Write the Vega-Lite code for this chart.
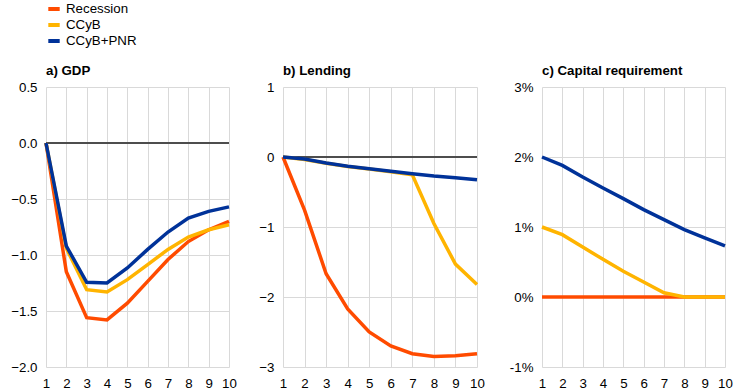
{
  "$schema": "https://vega.github.io/schema/vega-lite/v6.json",
  "background": "white",
  "padding": {"left": 10, "top": 1, "right": 5, "bottom": 0},
  "datasets": {
    "d": [
      {"panel": "GDP", "period": 1, "series": "Recession", "value": 0},
      {"panel": "GDP", "period": 2, "series": "Recession", "value": -1.15},
      {"panel": "GDP", "period": 3, "series": "Recession", "value": -1.56},
      {"panel": "GDP", "period": 4, "series": "Recession", "value": -1.58},
      {"panel": "GDP", "period": 5, "series": "Recession", "value": -1.43},
      {"panel": "GDP", "period": 6, "series": "Recession", "value": -1.235},
      {"panel": "GDP", "period": 7, "series": "Recession", "value": -1.04},
      {"panel": "GDP", "period": 8, "series": "Recession", "value": -0.88},
      {"panel": "GDP", "period": 9, "series": "Recession", "value": -0.775},
      {"panel": "GDP", "period": 10, "series": "Recession", "value": -0.70},
      {"panel": "GDP", "period": 1, "series": "CCyB", "value": 0},
      {"panel": "GDP", "period": 2, "series": "CCyB", "value": -0.94},
      {"panel": "GDP", "period": 3, "series": "CCyB", "value": -1.31},
      {"panel": "GDP", "period": 4, "series": "CCyB", "value": -1.33},
      {"panel": "GDP", "period": 5, "series": "CCyB", "value": -1.22},
      {"panel": "GDP", "period": 6, "series": "CCyB", "value": -1.086},
      {"panel": "GDP", "period": 7, "series": "CCyB", "value": -0.95},
      {"panel": "GDP", "period": 8, "series": "CCyB", "value": -0.84},
      {"panel": "GDP", "period": 9, "series": "CCyB", "value": -0.775},
      {"panel": "GDP", "period": 10, "series": "CCyB", "value": -0.73},
      {"panel": "GDP", "period": 1, "series": "CCyB+PNR", "value": 0},
      {"panel": "GDP", "period": 2, "series": "CCyB+PNR", "value": -0.92},
      {"panel": "GDP", "period": 3, "series": "CCyB+PNR", "value": -1.244},
      {"panel": "GDP", "period": 4, "series": "CCyB+PNR", "value": -1.25},
      {"panel": "GDP", "period": 5, "series": "CCyB+PNR", "value": -1.116},
      {"panel": "GDP", "period": 6, "series": "CCyB+PNR", "value": -0.95},
      {"panel": "GDP", "period": 7, "series": "CCyB+PNR", "value": -0.795},
      {"panel": "GDP", "period": 8, "series": "CCyB+PNR", "value": -0.67},
      {"panel": "GDP", "period": 9, "series": "CCyB+PNR", "value": -0.61},
      {"panel": "GDP", "period": 10, "series": "CCyB+PNR", "value": -0.57},
      {"panel": "Lending", "period": 1, "series": "Recession", "value": 0},
      {"panel": "Lending", "period": 2, "series": "Recession", "value": -0.76},
      {"panel": "Lending", "period": 3, "series": "Recession", "value": -1.667},
      {"panel": "Lending", "period": 4, "series": "Recession", "value": -2.17},
      {"panel": "Lending", "period": 5, "series": "Recession", "value": -2.5},
      {"panel": "Lending", "period": 6, "series": "Recession", "value": -2.70},
      {"panel": "Lending", "period": 7, "series": "Recession", "value": -2.81},
      {"panel": "Lending", "period": 8, "series": "Recession", "value": -2.85},
      {"panel": "Lending", "period": 9, "series": "Recession", "value": -2.84},
      {"panel": "Lending", "period": 10, "series": "Recession", "value": -2.81},
      {"panel": "Lending", "period": 1, "series": "CCyB", "value": 0},
      {"panel": "Lending", "period": 2, "series": "CCyB", "value": -0.035},
      {"panel": "Lending", "period": 3, "series": "CCyB", "value": -0.09},
      {"panel": "Lending", "period": 4, "series": "CCyB", "value": -0.137},
      {"panel": "Lending", "period": 5, "series": "CCyB", "value": -0.172},
      {"panel": "Lending", "period": 6, "series": "CCyB", "value": -0.212},
      {"panel": "Lending", "period": 7, "series": "CCyB", "value": -0.255},
      {"panel": "Lending", "period": 8, "series": "CCyB", "value": -0.95},
      {"panel": "Lending", "period": 9, "series": "CCyB", "value": -1.53},
      {"panel": "Lending", "period": 10, "series": "CCyB", "value": -1.82},
      {"panel": "Lending", "period": 1, "series": "CCyB+PNR", "value": 0},
      {"panel": "Lending", "period": 2, "series": "CCyB+PNR", "value": -0.03},
      {"panel": "Lending", "period": 3, "series": "CCyB+PNR", "value": -0.086},
      {"panel": "Lending", "period": 4, "series": "CCyB+PNR", "value": -0.133},
      {"panel": "Lending", "period": 5, "series": "CCyB+PNR", "value": -0.167},
      {"panel": "Lending", "period": 6, "series": "CCyB+PNR", "value": -0.205},
      {"panel": "Lending", "period": 7, "series": "CCyB+PNR", "value": -0.238},
      {"panel": "Lending", "period": 8, "series": "CCyB+PNR", "value": -0.27},
      {"panel": "Lending", "period": 9, "series": "CCyB+PNR", "value": -0.295},
      {"panel": "Lending", "period": 10, "series": "CCyB+PNR", "value": -0.324},
      {"panel": "Capital", "period": 1, "series": "Recession", "value": 0},
      {"panel": "Capital", "period": 2, "series": "Recession", "value": 0},
      {"panel": "Capital", "period": 3, "series": "Recession", "value": 0},
      {"panel": "Capital", "period": 4, "series": "Recession", "value": 0},
      {"panel": "Capital", "period": 5, "series": "Recession", "value": 0},
      {"panel": "Capital", "period": 6, "series": "Recession", "value": 0},
      {"panel": "Capital", "period": 7, "series": "Recession", "value": 0},
      {"panel": "Capital", "period": 8, "series": "Recession", "value": 0},
      {"panel": "Capital", "period": 9, "series": "Recession", "value": 0},
      {"panel": "Capital", "period": 10, "series": "Recession", "value": 0},
      {"panel": "Capital", "period": 1, "series": "CCyB", "value": 1.0},
      {"panel": "Capital", "period": 2, "series": "CCyB", "value": 0.89},
      {"panel": "Capital", "period": 3, "series": "CCyB", "value": 0.714},
      {"panel": "Capital", "period": 4, "series": "CCyB", "value": 0.538},
      {"panel": "Capital", "period": 5, "series": "CCyB", "value": 0.367},
      {"panel": "Capital", "period": 6, "series": "CCyB", "value": 0.214},
      {"panel": "Capital", "period": 7, "series": "CCyB", "value": 0.06},
      {"panel": "Capital", "period": 8, "series": "CCyB", "value": 0},
      {"panel": "Capital", "period": 9, "series": "CCyB", "value": 0},
      {"panel": "Capital", "period": 10, "series": "CCyB", "value": 0},
      {"panel": "Capital", "period": 1, "series": "CCyB+PNR", "value": 2.0},
      {"panel": "Capital", "period": 2, "series": "CCyB+PNR", "value": 1.88},
      {"panel": "Capital", "period": 3, "series": "CCyB+PNR", "value": 1.714},
      {"panel": "Capital", "period": 4, "series": "CCyB+PNR", "value": 1.557},
      {"panel": "Capital", "period": 5, "series": "CCyB+PNR", "value": 1.405},
      {"panel": "Capital", "period": 6, "series": "CCyB+PNR", "value": 1.248},
      {"panel": "Capital", "period": 7, "series": "CCyB+PNR", "value": 1.105},
      {"panel": "Capital", "period": 8, "series": "CCyB+PNR", "value": 0.962},
      {"panel": "Capital", "period": 9, "series": "CCyB+PNR", "value": 0.843},
      {"panel": "Capital", "period": 10, "series": "CCyB+PNR", "value": 0.729}
    ]
  },
  "config": {
    "font": "Liberation Sans",
    "view": {"stroke": null},
    "axis": {
      "grid": true, "gridColor": "#d9d9d9", "gridWidth": 1,
      "domain": false, "ticks": false,
      "labelFont": "Liberation Sans", "labelFontSize": 13.3, "labelColor": "#000",
      "title": null
    },
    "axisX": {"labelPadding": 9, "labelFlush": false},
    "axisY": {"labelPadding": 9},
    "title": {"font": "Liberation Sans", "fontSize": 13.3, "fontWeight": "bold", "anchor": "start", "frame": "group", "offset": 3, "color": "#000"},
    "legend": {
      "orient": "none", "legendX": 0, "legendY": -86,
      "symbolType": "stroke", "symbolStrokeWidth": 4, "symbolSize": 130,
      "labelFont": "Liberation Sans", "labelFontSize": 13.3, "labelColor": "#000",
      "labelOffset": 4, "rowPadding": 0, "title": null
    }
  },
  "bounds": "flush",
  "spacing": 54,
  "hconcat": [
    {
      "width": 183, "height": 280,
      "title": "a) GDP",
      "data": {"name": "d"},
      "transform": [{"filter": "datum.panel === 'GDP'"}],
      "layer": [
        {"mark": {"type": "rule", "color": "#4d4d4d", "strokeWidth": 2}, "encoding": {"y": {"datum": 0, "type": "quantitative"}}},
        {
          "mark": {"type": "line", "strokeWidth": 3.5},
          "encoding": {
            "x": {"field": "period", "type": "quantitative", "scale": {"domain": [1, 10], "nice": false}, "axis": {"values": [1,2,3,4,5,6,7,8,9,10]}},
            "y": {"field": "value", "type": "quantitative", "scale": {"domain": [-2, 0.5], "nice": false}, "axis": {"values": [-2,-1.5,-1,-0.5,0,0.5], "format": ".1f"}},
            "color": {"field": "series", "type": "nominal", "scale": {"domain": ["Recession", "CCyB", "CCyB+PNR"], "range": ["#FF4B00", "#FFB400", "#003299"]}, "sort": ["Recession", "CCyB", "CCyB+PNR"]}
          }
        }
      ]
    },
    {
      "bounds": "flush",
      "spacing": 65,
      "hconcat": [
        {
          "width": 194, "height": 280,
          "title": "b) Lending",
          "data": {"name": "d"},
          "transform": [{"filter": "datum.panel === 'Lending'"}],
          "layer": [
            {"mark": {"type": "rule", "color": "#4d4d4d", "strokeWidth": 2}, "encoding": {"y": {"datum": 0, "type": "quantitative"}}},
            {
              "mark": {"type": "line", "strokeWidth": 3.5},
              "encoding": {
                "x": {"field": "period", "type": "quantitative", "scale": {"domain": [1, 10], "nice": false}, "axis": {"values": [1,2,3,4,5,6,7,8,9,10]}},
                "y": {"field": "value", "type": "quantitative", "scale": {"domain": [-3, 1], "nice": false}, "axis": {"values": [-3,-2,-1,0,1], "format": "d"}},
                "color": {"field": "series", "type": "nominal", "scale": {"domain": ["Recession", "CCyB", "CCyB+PNR"], "range": ["#FF4B00", "#FFB400", "#003299"]}, "sort": ["Recession", "CCyB", "CCyB+PNR"]}
              }
            }
          ]
        },
        {
          "width": 183, "height": 280,
          "title": "c) Capital requirement",
          "data": {"name": "d"},
          "transform": [{"filter": "datum.panel === 'Capital'"}],
          "layer": [
            {
              "mark": {"type": "line", "strokeWidth": 3.5},
              "encoding": {
                "x": {"field": "period", "type": "quantitative", "scale": {"domain": [1, 10], "nice": false}, "axis": {"values": [1,2,3,4,5,6,7,8,9,10]}},
                "y": {"field": "value", "type": "quantitative", "scale": {"domain": [-1, 3], "nice": false}, "axis": {"values": [-1,0,1,2,3], "labelExpr": "datum.value + '%'"}},
                "color": {"field": "series", "type": "nominal", "scale": {"domain": ["Recession", "CCyB", "CCyB+PNR"], "range": ["#FF4B00", "#FFB400", "#003299"]}, "sort": ["Recession", "CCyB", "CCyB+PNR"]}
              }
            }
          ]
        }
      ]
    }
  ]
}
